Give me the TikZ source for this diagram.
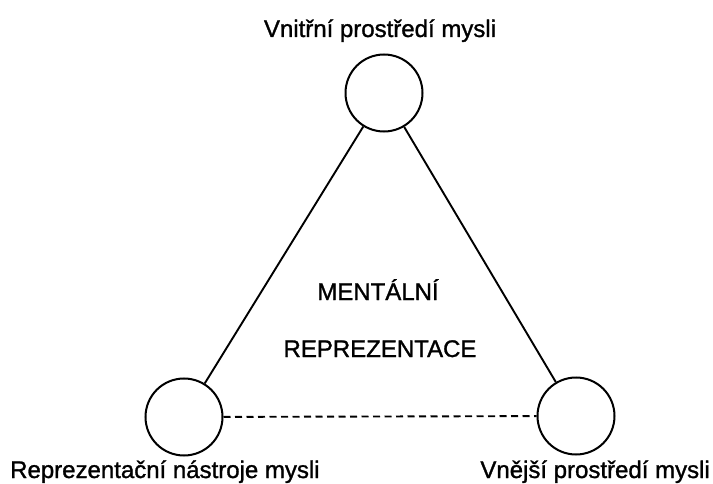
\documentclass[tikz,border=0pt]{standalone}
\usepackage{fontspec}
\setmainfont{Liberation Sans}
\newfontfamily\labelfont[RawFeature={embolden=1.2}]{Liberation Sans}
\begin{document}
\begin{tikzpicture}[x=1pt,y=1pt,
  corner/.style={circle,draw,line width=2pt,minimum size=77pt,inner sep=0pt},
  link/.style={line width=1.9pt},
  weak/.style={line width=1.9pt,dash pattern=on 7pt off 4.5pt},
  caption/.style={font=\labelfont\fontsize{24}{26}\selectfont,inner sep=0pt,anchor=base},
  inner/.style={font=\labelfont\fontsize{24}{26}\selectfont,inner sep=0pt,anchor=base}]
\useasboundingbox (0,0) rectangle (713,483);
% three corners of the triangle
\node[corner] (top) at (384,390) {};
\node[corner] (left) at (184,66) {};
\node[corner] (right) at (576,67) {};
% edges
\draw[link] (top) -- (left);
\draw[link] (top) -- (right);
\draw[weak] (left) -- (right);
% labels
\node[caption] (ttop) at (380,446) {Vnitřní prostředí mysli};
\node[caption,anchor=base west] (tleft) at (10,5) {Reprezentační nástroje mysli};
\node[caption,anchor=base east] (tright) at (710,5) {Vnější prostředí mysli};
\node[inner] (m1) at (378,183) {MENTÁLNÍ};
\node[inner] (m2) at (380,126) {REPREZENTACE};
\end{tikzpicture}
\end{document}
